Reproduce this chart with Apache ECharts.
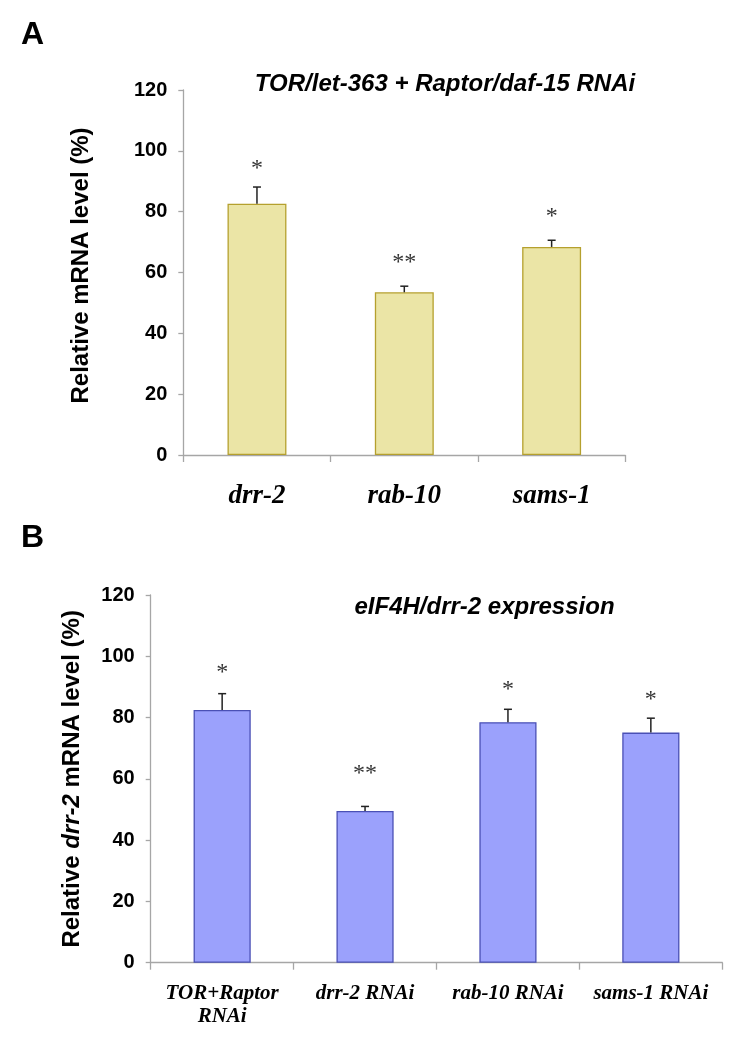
<!DOCTYPE html>
<html>
<head>
<meta charset="utf-8">
<script src="https://cdn.jsdelivr.net/npm/echarts@6/dist/echarts.min.js"></script>
<style>
html,body{margin:0;padding:0;background:#fff;}
#chart{width:743px;height:1050px;}
</style>
</head>
<body>
<div id="chart"></div>
<script>
// Panel A data
const catA = ['drr-2', 'rab-10', 'sams-1'];
const valA = [82.6, 53.5, 68.4];
const errA = [88.1, 55.5, 70.6];
const sigA = ['*', '**', '*'];
const sigLvA = [95.5, 64.5, 79.6];

// Panel B data
const catB = ['TOR+Raptor\nRNAi', 'drr-2 RNAi', 'rab-10 RNAi', 'sams-1 RNAi'];
const valB = [82.5, 49.5, 78.5, 75.1];
const errB = [87.8, 51.0, 82.7, 79.8];
const sigB = ['*', '**', '*', '*'];
const sigLvB = [96.0, 63.0, 90.3, 87.0];

const yTicks = [0, 20, 40, 60, 80, 100, 120];

const SANS = '"Liberation Sans", Arial, Helvetica, sans-serif';
const SERIF = '"Liberation Serif", "Times New Roman", serif';

function errSeries(idx, vals, errs) {
  return {
    type: 'custom', xAxisIndex: idx, yAxisIndex: idx, z: 5,
    data: vals.map((v, i) => [i, v, errs[i]]),
    renderItem: function (params, api) {
      const b = api.coord([api.value(0), api.value(1)]);
      const t = api.coord([api.value(0), api.value(2)]);
      const w = 4;
      return {
        type: 'group',
        children: [
          {type: 'line', shape: {x1: b[0], y1: b[1], x2: t[0], y2: t[1]}, style: {stroke: '#222', lineWidth: 1.5}},
          {type: 'line', shape: {x1: t[0] - w, y1: t[1], x2: t[0] + w, y2: t[1]}, style: {stroke: '#222', lineWidth: 1.5}}
        ]
      };
    }
  };
}

function sigSeries(idx, lv, marks) {
  return {
    type: 'custom', xAxisIndex: idx, yAxisIndex: idx, z: 6,
    data: lv.map((v, i) => [i, v]),
    renderItem: function (params, api) {
      const p = api.coord([api.value(0), api.value(1)]);
      return {
        type: 'text',
        style: {
          text: marks[params.dataIndex], x: p[0], y: p[1] + 4,
          align: 'center', verticalAlign: 'middle',
          font: '24px ' + SERIF, fill: '#333'
        }
      };
    }
  };
}

function yAxis(idx, name, gap, rich, pad) {
  return {
    type: 'value', gridIndex: idx, min: 0, max: 120, interval: 20,
    name: name, nameLocation: 'middle', nameGap: gap,
    nameTextStyle: {fontFamily: SANS, fontWeight: 'bold', fontSize: 24, color: '#000', rich: rich, padding: pad},
    axisLine: {show: true, lineStyle: {color: '#a6a6a6', width: 1.3}},
    axisTick: {show: true, length: 5, lineStyle: {color: '#a6a6a6', width: 1.3}},
    splitLine: {show: false},
    axisLabel: {
      margin: 16, fontFamily: SANS, fontWeight: 'bold', fontSize: 20, color: '#000',
      formatter: function (v) { return yTicks.indexOf(v) >= 0 ? String(v) : ''; }
    }
  };
}

const chart = echarts.init(document.getElementById('chart'), null, {renderer: 'canvas'});
chart.setOption({
  animation: false,
  backgroundColor: '#fff',
  grid: [
    {left: 183.3, right: 117.7, top: 90, bottom: 595},
    {left: 150.7, right: 20.7, top: 595, bottom: 87.3}
  ],
  xAxis: [
    {
      type: 'category', gridIndex: 0, data: catA,
      axisLine: {lineStyle: {color: '#a6a6a6', width: 1.3}},
      axisTick: {show: true, length: 7, interval: 0, lineStyle: {color: '#a6a6a6', width: 1.3}},
      axisLabel: {margin: 28, fontFamily: SERIF, fontWeight: 'bold', fontStyle: 'italic', fontSize: 27, color: '#000', interval: 0}
    },
    {
      type: 'category', gridIndex: 1, data: catB,
      axisLine: {lineStyle: {color: '#a6a6a6', width: 1.3}},
      axisTick: {show: true, length: 7, interval: 0, lineStyle: {color: '#a6a6a6', width: 1.3}},
      axisLabel: {margin: 19, fontFamily: SERIF, fontWeight: 'bold', fontStyle: 'italic', fontSize: 21, lineHeight: 23.5, color: '#000', interval: 0}
    }
  ],
  yAxis: [
    yAxis(0, 'Relative mRNA level (%)', 90, {}, [0, 0, 0, 14]),
    yAxis(1, '{n|Relative }{i|drr-2}{n| mRNA level (%)}', 66, {
      n: {fontFamily: SANS, fontWeight: 'bold', fontSize: 24, color: '#000'},
      i: {fontFamily: SANS, fontWeight: 'bold', fontStyle: 'italic', fontSize: 24, color: '#000'}
    }, 0)
  ],
  graphic: [
    {type: 'text', x: 21, y: 35, style: {text: 'A', font: 'bold 32px ' + SANS, fill: '#000', align: 'left', verticalAlign: 'middle'}},
    {type: 'text', x: 21, y: 538, style: {text: 'B', font: 'bold 32px ' + SANS, fill: '#000', align: 'left', verticalAlign: 'middle'}},
    {type: 'text', x: 445, y: 84, style: {text: 'TOR/let-363 + Raptor/daf-15 RNAi', font: 'italic bold 24px ' + SANS, fill: '#000', align: 'center', verticalAlign: 'middle'}},
    {type: 'text', x: 484.5, y: 607, style: {text: 'eIF4H/drr-2 expression', font: 'italic bold 24px ' + SANS, fill: '#000', align: 'center', verticalAlign: 'middle'}}
  ],
  series: [
    {
      type: 'bar', xAxisIndex: 0, yAxisIndex: 0, data: valA, barWidth: '40%',
      itemStyle: {color: '#ebe5a6', borderColor: '#b5a02e', borderWidth: 1.3}
    },
    errSeries(0, valA, errA),
    sigSeries(0, sigLvA, sigA),
    {
      type: 'bar', xAxisIndex: 1, yAxisIndex: 1, data: valB, barWidth: '40%',
      itemStyle: {color: '#9ba1fc', borderColor: '#4a50b5', borderWidth: 1.3}
    },
    errSeries(1, valB, errB),
    sigSeries(1, sigLvB, sigB)
  ]
});
</script>
</body>
</html>
